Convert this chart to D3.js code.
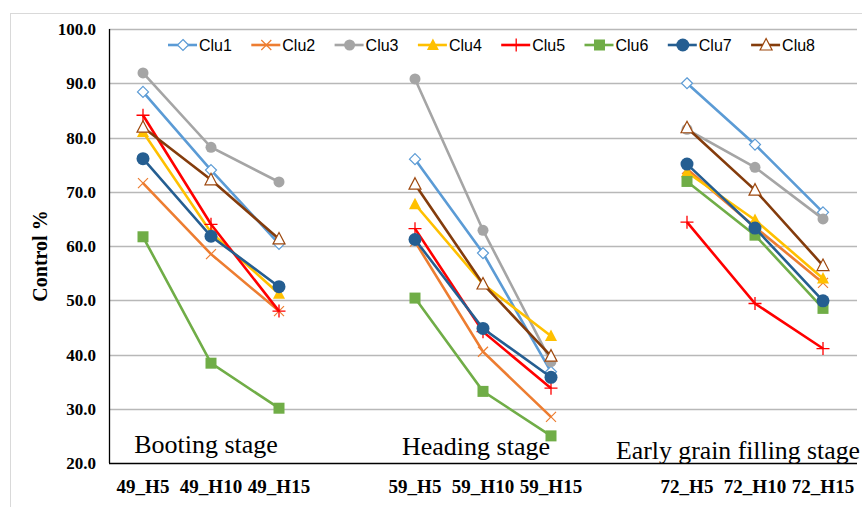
<!doctype html>
<html lang="en">
<head>
<meta charset="UTF-8">
<title>control</title>
<script src="https://d3js.org/d3.v7.min.js"></script>
<style>
  body { margin: 0; background: #fff; }
  .ytick { font-family: "Liberation Serif", serif; font-weight: bold; font-size: 17px; fill: #000; }
  .xtick { font-family: "Liberation Serif", serif; font-weight: bold; font-size: 19px; fill: #000; }
  .stage { font-family: "Liberation Serif", serif; font-size: 26px; fill: #000; }
  .legend text { font-family: "Liberation Sans", sans-serif; font-size: 16px; fill: #000; }
</style>
</head>
<body>
<div class="canvas"></div>
<script>
  // categories (blank slots separate the stages)
  const categories = ['49_H5', '49_H10', '49_H15', 'gap1', '59_H5', '59_H10', '59_H15', 'gap2', '72_H5', '72_H10', '72_H15'];
  const stageNames = ['Booting stage', 'Heading stage', 'Early grain filling stage'];
  const yTicks = [20, 30, 40, 50, 60, 70, 80, 90, 100];

  const clu1 = [88.4, 74.0, 60.4, null, 76.0, 58.7, 36.8, null, 90.0, 78.7, 66.2];
  const clu2 = [71.6, 58.5, 48.0, null, 60.8, 40.5, 28.5, null, 74.2, 63.5, 53.2];
  const clu3 = [91.9, 78.2, 71.8, null, 90.8, 62.9, 38.7, null, 81.5, 74.5, 65.0];
  const clu4 = [81.0, 62.5, 51.2, null, 67.7, 53.0, 43.4, null, 73.6, 64.8, 54.0];
  const clu5 = [84.1, 64.0, 48.0, null, 63.2, 44.2, 33.8, null, 64.4, 49.4, 41.1];
  const clu6 = [61.7, 38.4, 30.1, null, 50.4, 33.2, 25.0, null, 71.9, 62.0, 48.5];
  const clu7 = [76.1, 61.8, 52.5, null, 61.2, 44.8, 35.8, null, 75.1, 63.3, 49.9];
  const clu8 = [81.9, 72.2, 61.3, null, 71.4, 53.0, 39.7, null, 81.8, 70.3, 56.4];

  const series = [
    { name: 'Clu1', values: clu1, color: '#5b9bd5', marker: 'diamond', open: true },
    { name: 'Clu2', values: clu2, color: '#ed7d31', marker: 'x' },
    { name: 'Clu3', values: clu3, color: '#a5a5a5', marker: 'circleS' },
    { name: 'Clu4', values: clu4, color: '#ffc000', marker: 'triangle' },
    { name: 'Clu5', values: clu5, color: '#ff0000', marker: 'plus' },
    { name: 'Clu6', values: clu6, color: '#70ad47', marker: 'square' },
    { name: 'Clu7', values: clu7, color: '#255e91', marker: 'circle' },
    { name: 'Clu8', values: clu8, color: '#843c0c', marker: 'triangle', open: true, markerColor: '#9e480e' }
  ];

  const W = 862, H = 507;
  const margin = { left: 109, right: 5, top: 29, bottom: 44 };

  const svg = d3.select('.canvas').append('svg')
    .attr('width', W).attr('height', H);

  // outer chart frame
  svg.append('rect')
    .attr('x', 10.5).attr('y', 13.5)
    .attr('width', 900).attr('height', 520)
    .attr('fill', 'none').attr('stroke', '#d9d9d9');

  const x = d3.scaleBand()
    .domain(categories)
    .range([margin.left, W - margin.right]);

  const y = d3.scaleLinear()
    .domain([20, 100])
    .range([H - margin.bottom, margin.top]);

  const cx = d => x(d) + x.bandwidth() / 2;

  // gridlines
  svg.append('g')
    .selectAll('line')
    .data(yTicks.filter(d => d > 20))
    .join('line')
    .attr('x1', x.range()[0]).attr('x2', x.range()[1])
    .attr('y1', d => Math.round(y(d)) + 0.5).attr('y2', d => Math.round(y(d)) + 0.5)
    .attr('stroke', '#b8b8b8').attr('stroke-width', 1.3);

  // y tick labels
  svg.append('g')
    .selectAll('text')
    .data(yTicks)
    .join('text')
    .attr('class', 'ytick')
    .attr('x', 96)
    .attr('y', d => y(d) + 6)
    .attr('text-anchor', 'end')
    .text(d => d.toFixed(1));

  // y title
  svg.append('text')
    .attr('transform', 'translate(47, 256) rotate(-90)')
    .attr('text-anchor', 'middle')
    .attr('font-family', 'Liberation Serif, serif')
    .attr('font-weight', 'bold')
    .attr('font-size', 20)
    .text('Control %');

  // x tick labels
  svg.append('g')
    .selectAll('text')
    .data(categories.filter(d => !d.startsWith('gap')))
    .join('text')
    .attr('class', 'xtick')
    .attr('x', d => cx(d))
    .attr('y', 493)
    .attr('text-anchor', 'middle')
    .text(d => d);

  // stage labels
  const stagePos = [
    { x: cx('49_H10') - 5, y: 453, anchor: 'middle' },
    { x: cx('59_H10') - 7, y: 455, anchor: 'middle' },
    { x: cx('72_H5') - 71, y: 459, anchor: 'start' }
  ];
  svg.append('g')
    .selectAll('text')
    .data(stageNames)
    .join('text')
    .attr('class', 'stage')
    .attr('x', (d, i) => stagePos[i].x)
    .attr('y', (d, i) => stagePos[i].y)
    .attr('text-anchor', (d, i) => stagePos[i].anchor)
    .text(d => d)
    .each(function (d, i) {
      // keep the last label inside the frame
      const room = W - 2 - stagePos[i].x;
      if (stagePos[i].anchor === 'start' && this.getComputedTextLength() > room) {
        d3.select(this).attr('textLength', room).attr('lengthAdjust', 'spacingAndGlyphs');
      }
    });

  // axis lines
  svg.append('line')
    .attr('x1', margin.left + 0.5).attr('x2', margin.left + 0.5)
    .attr('y1', y(100)).attr('y2', y(20))
    .attr('stroke', '#000').attr('stroke-width', 1.3);
  svg.append('line')
    .attr('x1', margin.left).attr('x2', W - margin.right)
    .attr('y1', y(20) + 0.5).attr('y2', y(20) + 0.5)
    .attr('stroke', '#000').attr('stroke-width', 1.3);

  function drawMarker(g, type, color, open, mc) {
    const c = mc || color;
    if (type === 'diamond') {
      g.append('path').attr('d', 'M0,-5.5L5.5,0L0,5.5L-5.5,0Z')
        .attr('fill', '#fff').attr('stroke', c).attr('stroke-width', 1.2);
    } else if (type === 'x') {
      g.append('path').attr('d', 'M-5,-5L5,5M-5,5L5,-5')
        .attr('stroke', c).attr('stroke-width', 1.2);
    } else if (type === 'circleS') {
      g.append('circle').attr('r', 5.5).attr('fill', c);
    } else if (type === 'circle') {
      g.append('circle').attr('r', 6.5).attr('fill', c);
    } else if (type === 'triangle') {
      g.append('path').attr('d', 'M0,-6.5L6,5L-6,5Z')
        .attr('fill', open ? '#fff' : c).attr('stroke', c).attr('stroke-width', open ? 1.2 : 0);
    } else if (type === 'plus') {
      g.append('path').attr('d', 'M-6.5,0L6.5,0M0,-6.5L0,6.5')
        .attr('stroke', c).attr('stroke-width', 1.3);
    } else if (type === 'square') {
      g.append('rect').attr('x', -5.5).attr('y', -5.5).attr('width', 11).attr('height', 11).attr('fill', c);
    }
  }

  const line = d3.line()
    .defined(d => d.v != null)
    .x(d => cx(d.c))
    .y(d => y(d.v));

  series.forEach(s => {
    const pts = categories.map((c, i) => ({ c, v: s.values[i] }));
    const g = svg.append('g');
    g.append('path')
      .datum(pts)
      .attr('d', line)
      .attr('fill', 'none')
      .attr('stroke', s.color)
      .attr('stroke-width', 2.6);
    pts.filter(d => d.v != null).forEach(d => {
      const m = g.append('g').attr('transform', `translate(${cx(d.c)},${y(d.v)})`);
      drawMarker(m, s.marker, s.color, s.open, s.markerColor);
    });
  });

  // legend
  const legend = svg.append('g').attr('class', 'legend');
  series.forEach((s, i) => {
    const lx = 168 + i * 83.3;
    const ly = 45;
    const g = legend.append('g').attr('transform', `translate(${lx},${ly})`);
    g.append('line').attr('x1', 0).attr('x2', 29).attr('y1', 0).attr('y2', 0)
      .attr('stroke', s.color).attr('stroke-width', 2.6);
    const m = g.append('g').attr('transform', 'translate(15,0)');
    drawMarker(m, s.marker, s.color, s.open, s.markerColor);
    g.append('text').attr('x', 31).attr('y', 6).text(s.name);
  });
</script>
</body>
</html>
